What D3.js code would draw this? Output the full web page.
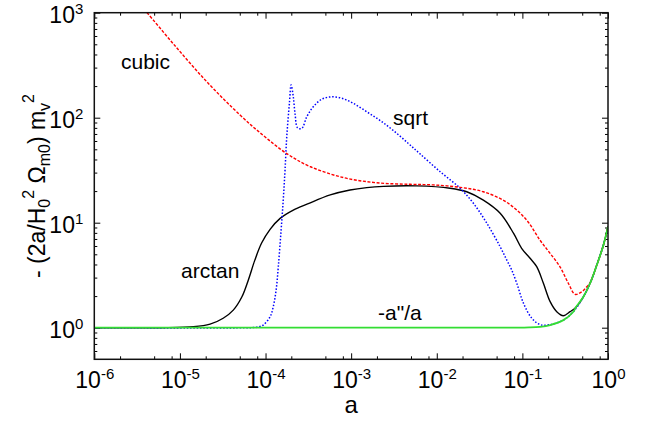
<!DOCTYPE html>
<html>
<head>
<meta charset="utf-8">
<script src="https://cdn.jsdelivr.net/npm/d3@7"></script>
<style>
body{margin:0;background:#fff}
text{font-family:"Liberation Sans",Arial,sans-serif;fill:#000}
</style>
</head>
<body>
<div id="chart"></div>
<script>
// tick values
var xTicks=[1e-6,1e-5,1e-4,1e-3,1e-2,1e-1,1];
var xTickExp=["-6","-5","-4","-3","-2","-1","0"];
var yTicks=[1,10,100,1000];
var yTickExp=["0","1","2","3"];
var xMinorMult=[2,5,8];
var yMinorMult=[2,3,4,5,6,7,8,9];

// -a"/a (green)
var accelA=[1e-6,1e-4,1e-2,0.08,0.12,0.161,0.211,0.301,0.394,0.42,0.516,0.618,0.74,0.883,1.0];
var accelV=[1,1,1,1,1.005,1.02,1.06,1.18,1.42,1.56,1.97,2.65,3.95,6.1,9.2];

// arctan (black)
var arctanA=[1e-6,5.9e-6,1.44e-5,2.25e-5,3.2e-5,4.2e-5,5.3e-5,6.3e-5,7.5e-5,9.0e-5,1.13e-4,1.48e-4,2.11e-4,3.1e-4,5.7e-4,9.7e-4,1.52e-3,2.38e-3,5.8e-3,1.43e-2,2.24e-2,3.5e-2,5.5e-2,7.9e-2,9.8e-2,0.123,0.147,0.176,0.211,0.252,0.301,0.361,0.42,0.516,0.618,0.74,0.883,1.0];
var arctanV=[1,1,1.02,1.08,1.23,1.47,1.97,2.85,4.4,6.4,8.65,11.0,13.2,15.1,18.4,20.5,21.6,22.2,22.4,21.3,19.7,16.4,12.3,7.9,5.7,4.58,3.81,2.65,1.77,1.42,1.30,1.42,1.56,1.97,2.65,3.95,6.1,9.2];

// sqrt (blue)
var sqrtA=[1e-6,6.6e-5,7.9e-5,9.4e-5,1.13e-4,1.23e-4,1.33e-4,1.41e-4,1.51e-4,1.61e-4,1.69e-4,1.77e-4,1.9e-4,1.99e-4,2.11e-4,2.21e-4,2.37e-4,2.65e-4,3.03e-4,3.61e-4,4.54e-4,5.9e-4,7.8e-4,1.06e-3,1.52e-3,2.18e-3,3.11e-3,4.66e-3,6.4e-3,1.09e-2,1.87e-2,2.68e-2,3.84e-2,5.5e-2,6.58e-2,7.5e-2,8.6e-2,0.103,0.129,0.161,0.211,0.301,0.394,0.516,0.618,0.74,0.883,1.0];
var sqrtV=[1,1,1.01,1.06,1.27,1.58,2.29,3.81,7.9,16.4,31.8,66,137,205,158,110,80,79,102,127,150,158,153,137,114,94,75.5,56.8,45.1,30.7,21.3,15.3,9.9,5.9,4.4,3.55,2.65,1.71,1.23,1.07,1.07,1.18,1.42,1.97,2.65,3.95,6.1,9.2];

// cubic (red)
var cubicA=[3.5e-6,4.16e-6,8.4e-6,2.05e-5,5.04e-5,9.4e-5,1.77e-4,3.3e-4,8.1e-4,1.99e-3,4.9e-3,9.1e-3,1.87e-2,3.5e-2,6.6e-2,0.112,0.161,0.211,0.275,0.344,0.413,0.494,0.565,0.618,0.74,0.883,1.0];
var cubicV=[1160,993,504,221,106,67.8,45.5,34.3,26.9,24,23.2,22.9,21.7,19.7,15.6,10.6,6.8,5.1,3.8,2.65,2.08,2.2,2.45,2.68,3.95,6.1,9.2];

var W=662,H=430;
var pLeft=94.3,pRight=608,pTop=12.7,pBottom=359.3;

var svg=d3.select("#chart").append("svg").attr("width",W).attr("height",H);

var x=d3.scaleLog().domain([1e-6,1]).range([pLeft,pRight]);
var y=d3.scaleLog().domain([0.5,1000]).range([pBottom,pTop]);

var xMinor=[];
for(var d=-6;d<0;d++){xMinorMult.forEach(function(m){xMinor.push(m*Math.pow(10,d));});}
var yMinor=[];
for(var e=-1;e<3;e++){yMinorMult.forEach(function(m){var v=m*Math.pow(10,e);if(v>0.5&&v<1000)yMinor.push(v);});}

// clip
svg.append("clipPath").attr("id","clip").append("rect")
  .attr("x",pLeft).attr("y",pTop).attr("width",pRight-pLeft).attr("height",pBottom-pTop);

function supLabels(g,exps){
  g.selectAll(".tick text").each(function(d,i){
    var t=d3.select(this);
    t.text("10").style("font-size","23px");
    t.append("tspan").attr("dy",-9).style("font-size","15px").text(exps[i]);
  });
}

// major axes
var gx=svg.append("g").attr("transform","translate(0,"+pBottom+")")
  .call(d3.axisBottom(x).tickValues(xTicks).tickSize(-6).tickPadding(12.4));
supLabels(gx,xTickExp);

var gy=svg.append("g").attr("transform","translate("+pLeft+",0)")
  .call(d3.axisLeft(y).tickValues(yTicks).tickSize(-6).tickPadding(11));
gy.selectAll(".tick text").attr("dy","0.42em");
supLabels(gy,yTickExp);

svg.append("g").attr("transform","translate(0,"+pTop+")")
  .call(d3.axisTop(x).tickValues(xTicks).tickSize(-6).tickFormat(""));
svg.append("g").attr("transform","translate("+pRight+",0)")
  .call(d3.axisRight(y).tickValues(yTicks).tickSize(-6).tickFormat(""));

// minor ticks
svg.append("g").attr("transform","translate(0,"+pBottom+")")
  .call(d3.axisBottom(x).tickValues(xMinor).tickSize(-3).tickFormat(""));
svg.append("g").attr("transform","translate(0,"+pTop+")")
  .call(d3.axisTop(x).tickValues(xMinor).tickSize(-3).tickFormat(""));
svg.append("g").attr("transform","translate("+pLeft+",0)")
  .call(d3.axisLeft(y).tickValues(yMinor).tickSize(-3).tickFormat(""));
svg.append("g").attr("transform","translate("+pRight+",0)")
  .call(d3.axisRight(y).tickValues(yMinor).tickSize(-3).tickFormat(""));

svg.selectAll(".domain").remove();
svg.selectAll(".tick line").attr("stroke","#000").attr("stroke-width",1);

// curves
var line=d3.line().x(function(p){return x(p[0]);}).y(function(p){return y(p[1]);})
  .curve(d3.curveCatmullRom.alpha(0.5));
var plot=svg.append("g").attr("clip-path","url(#clip)");

plot.append("path").datum(d3.zip(arctanA,arctanV)).attr("d",line)
  .attr("fill","none").attr("stroke","#000").attr("stroke-width",1.4);
plot.append("path").datum(d3.zip(sqrtA,sqrtV)).attr("d",line)
  .attr("fill","none").attr("stroke","#0000ff").attr("stroke-width",1.5)
  .attr("stroke-dasharray","1.5,1.8");
plot.append("path").datum(d3.zip(cubicA,cubicV)).attr("d",line)
  .attr("fill","none").attr("stroke","#ff0000").attr("stroke-width",1.4)
  .attr("stroke-dasharray","3,1.6");
plot.append("path").datum(d3.zip(accelA,accelV)).attr("d",line)
  .attr("fill","none").attr("stroke","#33dd33").attr("stroke-width",1.8);

// frame
svg.append("rect").attr("x",pLeft).attr("y",pTop).attr("width",pRight-pLeft).attr("height",pBottom-pTop)
  .attr("fill","none").attr("stroke","#111").attr("stroke-width",1.5);

// curve labels
svg.append("text").attr("x",121).attr("y",69).style("font-size","21px").text("cubic");
svg.append("text").attr("x",393).attr("y",125).style("font-size","21px").text("sqrt");
svg.append("text").attr("x",181).attr("y",278).style("font-size","21px").text("arctan");
svg.append("text").attr("x",378).attr("y",320).style("font-size","21px").text("-a\"/a");

// axis titles
svg.append("text").attr("x",(pLeft+pRight)/2).attr("y",413).attr("text-anchor","middle")
  .style("font-size","24px").text("a");

var yl=svg.append("text").attr("transform","translate(45,"+((pTop+pBottom)/2)+") rotate(-90)")
  .attr("text-anchor","middle").style("font-size","23px");
yl.append("tspan").text("- (2a/H");
yl.append("tspan").attr("dy",5).style("font-size","16px").text("0");
yl.append("tspan").attr("dy",-16).style("font-size","16px").text("2");
yl.append("tspan").attr("dy",11).text(" \u03a9");
yl.append("tspan").attr("dy",5).style("font-size","16px").text("m0");
yl.append("tspan").attr("dy",-5).text(") m");
yl.append("tspan").attr("dy",5).style("font-size","16px").text("v");
yl.append("tspan").attr("dy",-16).style("font-size","16px").text("2");
</script>
</body>
</html>
